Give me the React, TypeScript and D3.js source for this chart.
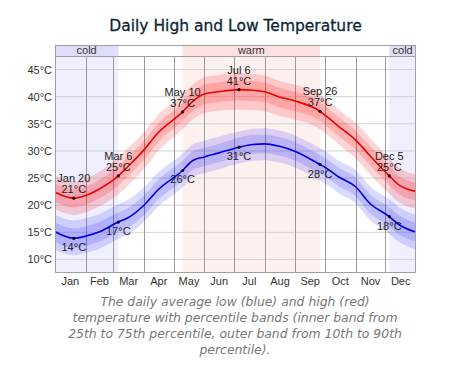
import React, { useEffect, useRef } from 'react';
import * as d3 from 'd3';

// sample dates (month, day) in a non-leap year
const sampleDates: [number, number][] = [
  [1, 1], [1, 20], [2, 1], [2, 15], [3, 6], [3, 15], [4, 1], [4, 15], [5, 10], [5, 20],
  [6, 1], [6, 15], [7, 6], [7, 20], [8, 1], [8, 15], [9, 1], [9, 26], [10, 1], [10, 15],
  [11, 1], [11, 15], [12, 5], [12, 15], [12, 31],
];

const highAvg = [22.4, 21.3, 21.8, 23.0, 25.4, 27.0, 30.2, 33.3, 37.2, 39.1, 40.5, 40.9, 41.3, 41.2, 40.9, 40.0, 39.2, 37.3, 36.6, 34.5, 32.0, 29.2, 25.4, 23.7, 22.6];
const highP10 = [19.2, 18.2, 18.7, 19.8, 22.0, 23.5, 26.7, 29.9, 34.0, 35.8, 37.0, 37.4, 37.6, 37.5, 37.3, 36.5, 35.8, 34.0, 33.3, 31.2, 28.6, 25.8, 22.1, 20.5, 19.4];
const highP25 = [20.6, 19.6, 20.1, 21.3, 23.6, 25.2, 28.4, 31.5, 35.5, 37.3, 38.6, 39.0, 39.3, 39.2, 39.0, 38.1, 37.3, 35.5, 34.8, 32.7, 30.2, 27.4, 23.7, 22.0, 20.9];
const highP75 = [24.0, 22.9, 23.4, 24.7, 27.2, 28.8, 31.9, 35.0, 38.9, 40.8, 42.2, 42.6, 43.0, 42.9, 42.6, 41.7, 40.9, 39.0, 38.3, 36.2, 33.7, 31.0, 27.2, 25.4, 24.2];
const highP90 = [25.4, 24.4, 24.9, 26.2, 28.8, 30.4, 33.5, 36.6, 40.4, 42.2, 43.6, 44.0, 44.3, 44.2, 43.9, 43.0, 42.2, 40.4, 39.7, 37.6, 35.2, 32.5, 28.7, 26.9, 25.7];

const lowAvg = [15.1, 13.9, 14.3, 15.1, 16.9, 17.6, 20.0, 22.8, 26.4, 28.2, 28.9, 29.6, 30.7, 31.2, 31.3, 30.9, 29.9, 27.5, 27.0, 25.2, 23.4, 20.4, 17.9, 16.4, 15.1];
const lowP10 = [11.8, 10.8, 11.2, 12.0, 13.8, 14.5, 16.9, 19.7, 23.3, 25.2, 25.9, 26.6, 27.7, 28.2, 28.3, 27.9, 26.9, 24.5, 24.0, 22.2, 20.3, 17.3, 14.7, 13.2, 11.9];
const lowP25 = [13.3, 12.1, 12.5, 13.3, 15.1, 15.8, 18.2, 21.0, 24.6, 26.5, 27.2, 27.9, 29.0, 29.5, 29.6, 29.2, 28.2, 25.8, 25.3, 23.5, 21.6, 18.6, 16.1, 14.6, 13.3];
const lowP75 = [16.8, 15.7, 16.1, 16.9, 18.7, 19.4, 21.8, 24.6, 28.2, 29.9, 30.6, 31.3, 32.5, 33.0, 33.0, 32.6, 31.6, 29.2, 28.7, 26.9, 25.1, 22.1, 19.6, 18.1, 16.8];
const lowP90 = [18.3, 17.2, 17.6, 18.4, 20.2, 20.9, 23.3, 26.0, 29.5, 31.2, 31.9, 32.6, 33.6, 34.1, 34.2, 33.8, 32.8, 30.5, 30.0, 28.2, 26.5, 23.6, 21.1, 19.6, 18.3];

// highlighted days: [label, month, day, high, low]
const markers: [string, number, number, number, number][] = [
  ['Jan 20', 1, 20, 21, 14],
  ['Mar 6', 3, 6, 25, 17],
  ['May 10', 5, 10, 37, 26],
  ['Jul 6', 7, 6, 41, 31],
  ['Sep 26', 9, 26, 37, 28],
  ['Dec 5', 12, 5, 25, 18],
];

// seasons: [label, start month, day, end month, day, kind]
const seasons: [string, number, number, number, number, string][] = [
  ['cold', 1, 1, 3, 6, 'cold'],
  ['warm', 5, 10, 9, 26, 'warm'],
  ['cold', 12, 5, 12, 31, 'cold'],
];

const yTicks = [10, 15, 20, 25, 30, 35, 40, 45];
const monthNames = ['Jan', 'Feb', 'Mar', 'Apr', 'May', 'Jun', 'Jul', 'Aug', 'Sep', 'Oct', 'Nov', 'Dec'];

const YEAR = 2011;
const dt = (m: number, d: number) => new Date(YEAR, m - 1, d);

const App: React.FC = () => {
  const svgRef = useRef<SVGSVGElement>(null);

  useEffect(() => {
    const svg = d3.select(svgRef.current);
    svg.selectAll('*').remove();

    const left = 55, right = 416, top = 56, bottom = 272.5, headTop = 45;
    const font = '"Liberation Sans", Arial, sans-serif';

    const x = d3.scaleTime().domain([dt(1, 1), new Date(YEAR + 1, 0, 1)]).range([left, right]);
    const y = d3.scaleLinear().domain([7.6, 47.5]).range([bottom, top]);

    // title
    svg.append('text')
      .attr('x', 235.5).attr('y', 31)
      .attr('text-anchor', 'middle')
      .attr('font-family', '"DejaVu Sans", Verdana, sans-serif')
      .attr('font-size', 15.5)
      .attr('fill', '#0d1f33')
      .attr('stroke', '#0d1f33').attr('stroke-width', 0.3)
      .text('Daily High and Low Temperature');

    // season shading
    seasons.forEach(([label, m1, d1, m2, d2, kind]) => {
      const x1 = x(dt(m1, d1));
      const x2 = m2 === 12 && d2 === 31 ? right : x(dt(m2, d2));
      svg.append('rect')
        .attr('x', x1).attr('y', headTop).attr('width', x2 - x1).attr('height', top - headTop)
        .attr('fill', kind === 'cold' ? '#dedefb' : '#fde0e0');
      svg.append('rect')
        .attr('x', x1).attr('y', top).attr('width', x2 - x1).attr('height', bottom - top)
        .attr('fill', kind === 'cold' ? '#efefff' : '#fff0f0');
      svg.append('text')
        .attr('x', (x1 + x2) / 2).attr('y', top - 2.5)
        .attr('text-anchor', 'middle')
        .attr('font-family', font).attr('font-size', 11)
        .attr('fill', '#333')
        .text(label);
    });

    // horizontal grid
    svg.append('g').selectAll('line').data(yTicks).enter().append('line')
      .attr('x1', left).attr('x2', right)
      .attr('y1', d => y(d)).attr('y2', d => y(d))
      .attr('stroke', '#d4d4d4').attr('stroke-width', 1);

    // month grid
    const monthStarts = d3.timeMonth.range(dt(1, 1), new Date(YEAR + 1, 0, 1));
    svg.append('g').selectAll('line').data(monthStarts.slice(1)).enter().append('line')
      .attr('x1', d => Math.round(x(d)) + 0.5).attr('x2', d => Math.round(x(d)) + 0.5)
      .attr('y1', top).attr('y2', bottom)
      .attr('stroke', '#9a9a9a').attr('stroke-width', 1);

    const dates = sampleDates.map(([m, d]) => dt(m, d));
    const curve = d3.curveMonotoneX;
    const band = (lo: number[], hi: number[]) =>
      d3.area<number>()
        .x(i => x(dates[i]))
        .y0(i => y(lo[i]))
        .y1(i => y(hi[i]))
        .curve(curve)(d3.range(dates.length));
    const line = (v: number[]) =>
      d3.line<number>().x(i => x(dates[i])).y(i => y(v[i])).curve(curve)(d3.range(dates.length));

    const plot = svg.append('g');
    plot.append('path').attr('d', band(highP10, highP90)!).attr('fill', 'rgba(255,0,0,0.17)');
    plot.append('path').attr('d', band(highP25, highP75)!).attr('fill', 'rgba(255,0,0,0.17)');
    plot.append('path').attr('d', band(lowP10, lowP90)!).attr('fill', 'rgba(0,0,255,0.14)');
    plot.append('path').attr('d', band(lowP25, lowP75)!).attr('fill', 'rgba(0,0,255,0.14)');
    plot.append('path').attr('d', line(highAvg)!).attr('fill', 'none').attr('stroke', '#f00000').attr('stroke-width', 1.6);
    plot.append('path').attr('d', line(lowAvg)!).attr('fill', 'none').attr('stroke', '#0000e6').attr('stroke-width', 1.6);

    // frame
    svg.append('rect')
      .attr('x', left + 0.5).attr('y', headTop + 0.5)
      .attr('width', right - left - 1).attr('height', bottom - headTop - 0.5)
      .attr('fill', 'none').attr('stroke', '#a0a0a0');
    svg.append('line')
      .attr('x1', left).attr('x2', right).attr('y1', top + 0.5).attr('y2', top + 0.5)
      .attr('stroke', '#a0a0a0');

    // markers
    const mk = svg.append('g').attr('font-family', font).attr('font-size', 11).attr('fill', '#222').attr('text-anchor', 'middle');
    markers.forEach(([label, m, d, hi, lo]) => {
      const xi = x(dt(m, d));
      const idx = sampleDates.findIndex(s => s[0] === m && s[1] === d);
      const yh = y(highAvg[idx]);
      const yl = y(lowAvg[idx]);
      mk.append('circle').attr('cx', xi).attr('cy', yh).attr('r', 1.6).attr('fill', '#000');
      mk.append('circle').attr('cx', xi).attr('cy', yl).attr('r', 1.6).attr('fill', '#000');
      mk.append('text').attr('x', xi).attr('y', yh - 16).text(label);
      mk.append('text').attr('x', xi).attr('y', yh - 5).text(`${hi}°C`);
      mk.append('text').attr('x', xi).attr('y', yl + 13).text(`${lo}°C`);
    });

    // y axis labels
    svg.append('g').selectAll('text').data(yTicks).enter().append('text')
      .attr('x', 52).attr('y', d => y(d) + 4)
      .attr('text-anchor', 'end')
      .attr('font-family', font).attr('font-size', 11).attr('fill', '#333')
      .text(d => `${d}°C`);

    // month labels
    svg.append('g').selectAll('text').data(monthStarts).enter().append('text')
      .attr('x', d => (x(d) + x(d3.timeMonth.offset(d, 1))) / 2)
      .attr('y', bottom + 12)
      .attr('text-anchor', 'middle')
      .attr('font-family', font).attr('font-size', 11).attr('fill', '#333')
      .text((d, i) => monthNames[i]);

    // caption
    const caption = [
      'The daily average low (blue) and high (red)',
      'temperature with percentile bands (inner band from',
      '25th to 75th percentile, outer band from 10th to 90th',
      'percentile).',
    ];
    svg.append('g').selectAll('text').data(caption).enter().append('text')
      .attr('x', 235).attr('y', (d, i) => 305.5 + i * 16)
      .attr('text-anchor', 'middle')
      .attr('font-family', '"DejaVu Sans", Verdana, sans-serif')
      .attr('font-style', 'italic')
      .attr('font-size', 12.4)
      .attr('fill', '#777')
      .text(d => d);
  }, []);

  return (
    <svg ref={svgRef} width={469} height={369} style={{ position: 'absolute', left: 0, top: 0, background: '#fff' }}></svg>
  );
};

export default App;
